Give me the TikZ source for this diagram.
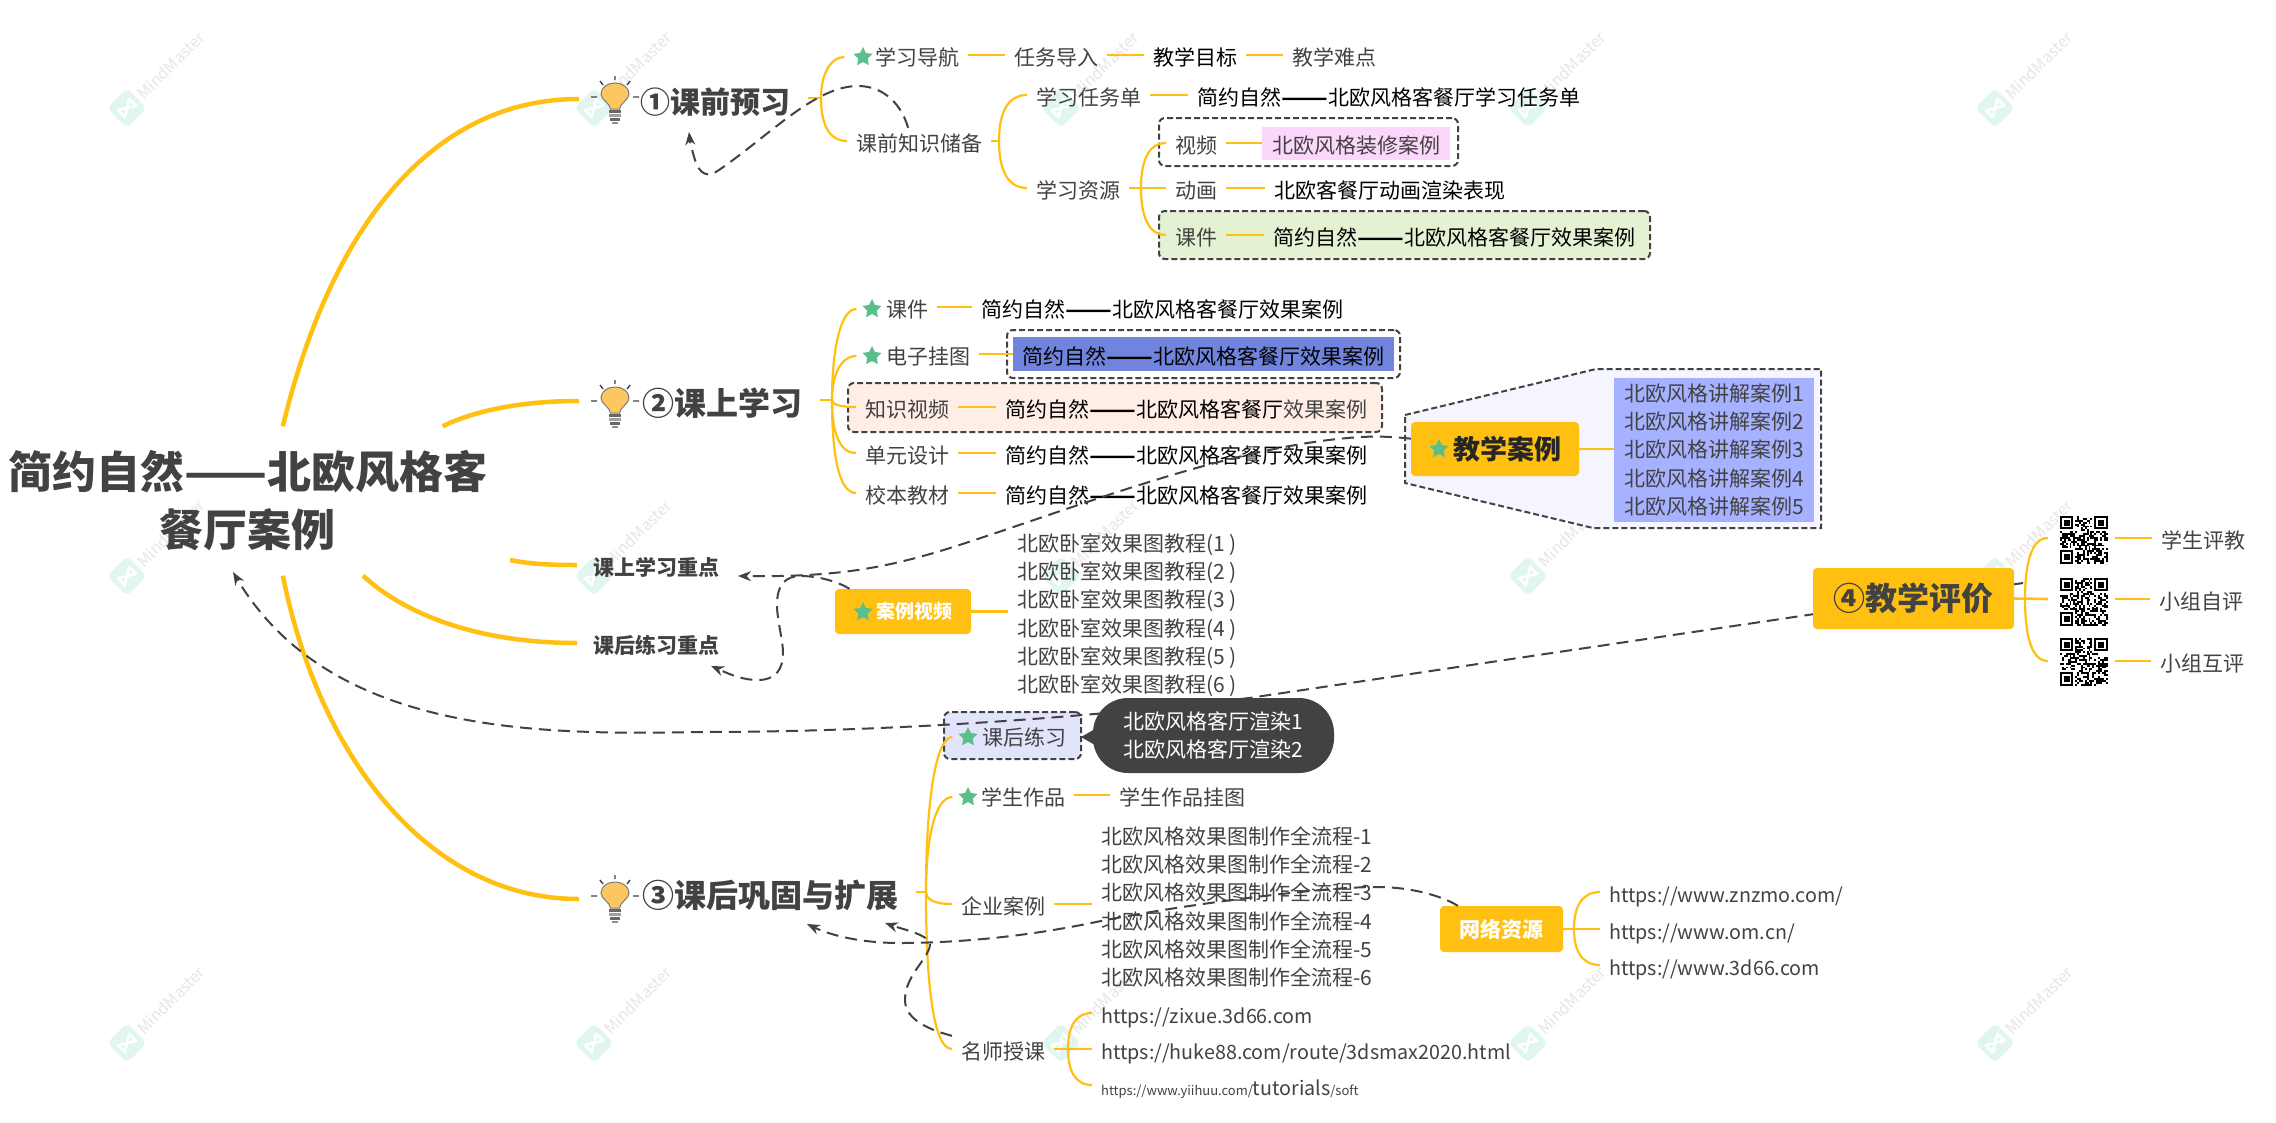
\documentclass[tikz,border=0pt]{standalone}
\usepackage{fontspec}
\setmainfont{Noto Sans CJK SC}
\usetikzlibrary{shapes.geometric,arrows.meta,calc}
\definecolor{org}{HTML}{FFC012}
\definecolor{gy}{HTML}{424242}
\definecolor{wmg}{HTML}{E6E6E6}
\definecolor{wml}{HTML}{E0F6EE}
\definecolor{strc}{HTML}{5BBF8A}
\definecolor{cbulb}{HTML}{FCC75F}
\definecolor{cgreen}{HTML}{E4F2D3}
\definecolor{cpeach}{HTML}{FFEEE5}
\definecolor{clav}{HTML}{E1E4FA}
\definecolor{cpale}{HTML}{F4F5FE}
\definecolor{cpink}{HTML}{FBD7FB}
\definecolor{cblue}{HTML}{7084DE}
\definecolor{clist}{HTML}{A6B1FF}
\newcommand\dd{\scalebox{1.3}[1]{\bfseries ——}}
\tikzset{
  x=1pt,y=-1pt,
  lbl/.style={anchor=west,inner xsep=9pt,inner ysep=0pt,font=\fontsize{21}{25}\selectfont,text height=23pt,text depth=3pt,text=gy},
  blk/.style={lbl,text=black},
  urlt/.style={lbl,font=\fontsize{19.7}{25}\selectfont},
  multi/.style={anchor=west,inner xsep=9pt,inner ysep=0pt,font=\fontsize{21}{28.3}\selectfont,align=left,text=gy},
  hdr/.style={anchor=west,inner xsep=18pt,inner ysep=0pt,font=\fontsize{30}{34}\bfseries\selectfont,text height=34pt,text depth=4pt,text=gy},
  sub/.style={anchor=west,inner xsep=16pt,inner ysep=0pt,font=\fontsize{21}{25}\bfseries\selectfont,text height=23pt,text depth=3pt,text=gy},
  twig/.style={draw=org,line width=2.2pt},
  lnk/.style={draw=org,line width=2.6pt},
  trunk/.style={draw=org,line width=4.5pt},
  grp/.style={draw=gy,line width=2pt,dash pattern=on 6pt off 3pt,rounded corners=6pt,inner sep=0pt},
  solid box/.style={inner sep=0pt,text height=23pt,text depth=3pt,font=\fontsize{21}{25}\selectfont},
  orgbox/.style={fill=org,rounded corners=4pt,inner sep=0pt},
  dlink/.style={draw=gy,line width=2pt,dash pattern=on 12pt off 7pt,-{Stealth[length=13pt,width=10pt]}},
  gstar/.style={star,star points=5,star point ratio=2,fill=strc,minimum size=20pt,inner sep=0pt},
  bulbspot/.style={minimum width=72pt,minimum height=40pt,inner sep=0pt},
  qrspot/.style={minimum width=67pt,minimum height=48pt,inner sep=0pt},
}
\newcommand\brnch[3][0]{\draw[twig,shorten >=#1pt] (#2) .. controls ($(#2)!.55!(#2 |- #3)$) and ($(#2 |- #3)!.25!(#3)$) .. (#3);}
\newcommand\wmark[2]{\begin{scope}[shift={(#1,#2)}]
  \fill[wml,rounded corners=5pt,rotate=45] (-14,-14) rectangle (14,14);
  \draw[white,line width=2.6pt,line join=round,rotate=45] (-8,-5) -- (8,5) -- (8,-5) -- (-8,5) -- cycle;
  \node[rotate=45,text=wmg,font=\fontsize{16}{18}\selectfont,inner sep=0pt] at (44,-43) {MindMaster};
\end{scope}}
\newcommand\bulbicon[2]{\begin{scope}[shift={(#1,#2)}]
  \draw[fill=cbulb,draw=gy!70,line width=1pt] (-4.5,9) .. controls (-5,3) and (-14,0) .. (-14,-6) .. controls (-14,-13) and (-7,-17) .. (0,-17) .. controls (7,-17) and (14,-13) .. (14,-6) .. controls (14,0) and (5,3) .. (4.5,9) -- cycle;
  \fill[gy!80] (-6,10) rectangle (6,13);
  \fill[gy!50] (-6,14) rectangle (6,17);
  \fill[gy!80] (-5,18) rectangle (5,21);
  \fill[gy!60] (-3,22) rectangle (3,24);
  \draw[gy,line width=1.4pt] (0,-24) -- (0,-20) (-15,-19) -- (-12,-15) (15,-19) -- (12,-15) (-24,-3) -- (-18,-3) (24,-3) -- (18,-3);
\end{scope}}
\newcommand\finderq[2]{\fill[white] (#1-0.5,#2-0.5) rectangle ++(8,8);\fill[black] (#1,#2) rectangle ++(7,7);\fill[white] (#1+1,#2+1) rectangle ++(5,5);\fill[black] (#1+2,#2+2) rectangle ++(3,3);}
\newcommand\qrcode[3]{\begin{scope}[shift={(#1,#2)},x=1.9pt,y=-1.9pt]
  \pgfmathsetseed{#3}
  \foreach \i in {0,...,24}{\foreach \j in {0,...,24}{\pgfmathrnd\ifdim\pgfmathresult pt<0.5pt \fill[black] (\i,\j) rectangle ++(1.02,1.02);\fi}}
  \fill[white] (0,0) rectangle (8,8);\fill[white] (17,0) rectangle (25,8);\fill[white] (0,17) rectangle (8,25);
  \finderq{0}{0}\finderq{18}{0}\finderq{0}{18}
\end{scope}}
\begin{document}
\begin{tikzpicture}
\fill[white] (0,0) rectangle (2276,1122);
\useasboundingbox (0,0) rectangle (2276,1122);
% watermarks
\foreach \wx in {127,594,1061,1528,1995}{\foreach \wy in {108,576,1043}{\wmark{\wx}{\wy}}}
% root
\node[font=\fontsize{44}{58}\bfseries\selectfont,text=gy,align=center,minimum width=482pt,minimum height=149pt,inner sep=0pt] (root) at (248,501) {简约自然\scalebox{1.1}[1]{——}北欧风格客\\餐厅案例};
% level one
\node[bulbspot] (bu1) at (615,99) {};
\node[bulbspot] (bu2) at (615,401) {};
\node[bulbspot] (bu3) at (615,899) {};
\bulbicon{615}{100}\bulbicon{615}{404}\bulbicon{615}{899}
\node[hdr] (t1) at (622,98) {①课前预习};
\node[hdr,font=\fontsize{32}{36}\bfseries\selectfont] (t2) at (624,400) {②课上学习};
\node[hdr,font=\fontsize{32}{36}\bfseries\selectfont] (t3) at (624,892) {③课后巩固与扩展};
\node[sub] (kz) at (577,565) {课上学习重点};
\node[sub] (hz) at (577,643) {课后练习重点};
\coordinate (r3) at (510,560);
\draw[trunk] (root.65) .. controls (330,230) and (430,99) .. (bu1.west);
\draw[trunk] (root.21) .. controls (480,408) and (530,401) .. (bu2.west);
\draw[trunk] (r3) .. controls (530,564) and (550,565) .. (kz.west);
\draw[trunk] (root.-33) .. controls (400,610) and (470,643) .. (hz.west);
\draw[trunk] (root.-65) .. controls (320,760) and (430,899) .. (bu3.west);
\coordinate (j1) at (821,98);\coordinate (j1b) at (999,141);\coordinate (j1c) at (1141,188);
\coordinate (j2) at (832,400);\coordinate (j3) at (926,892);\coordinate (j5) at (1068,1049);
\coordinate (j6) at (1574,929);\coordinate (j4) at (2025,599);
% group frames
\node[grp,minimum width=299pt,minimum height=48pt] (g1) at (1308.5,142) {};
\node[grp,fill=cgreen,minimum width=491pt,minimum height=48pt] (g2) at (1404.5,235) {};
\node[grp,minimum width=393pt,minimum height=48pt] (g3) at (1203.5,354) {};
\node[grp,fill=cpeach,minimum width=534pt,minimum height=49pt] (g4) at (1115,407.5) {};
\node[grp,fill=clav,minimum width=137pt,minimum height=47pt] (g5) at (1012.5,735.5) {};
\draw[draw=gy,fill=cpale,line width=2pt,dash pattern=on 6pt off 3pt] (1405,415) -- (1596,369) -- (1821,369) -- (1821,528) -- (1593,528) -- (1405,483) -- cycle;
% preview branch
\node[gstar] (s1) at (863,57) {};
\node[lbl] (a1) at (866,55) {学习导航};
\node[lbl] (a2) at (1005,55) {任务导入};
\node[blk] (a3) at (1144,55) {教学目标};
\node[lbl] (a4) at (1283,55) {教学难点};
\node[lbl] (k2) at (847,141) {课前知识储备};
\node[lbl] (b1) at (1027,95) {学习任务单};
\node[blk] (b2) at (1188,95) {简约自然\dd 北欧风格客餐厅学习任务单};
\node[lbl] (c1) at (1027,188) {学习资源};
\node[lbl] (d1) at (1166,143) {视频};
\node[solid box,fill=cpink,text=gy,minimum width=188pt,minimum height=33pt] (d2) at (1356,143) {北欧风格装修案例};
\node[lbl] (e1) at (1166,188) {动画};
\node[blk] (e2) at (1265,188) {北欧客餐厅动画渲染表现};
\node[lbl] (f1) at (1166,235) {课件};
\node[blk] (f2) at (1264,235) {简约自然\dd 北欧风格客餐厅效果案例};
\draw[twig] (t1.east) -- (j1);
\brnch[12]{j1}{s1.west}
\brnch{j1}{k2.west}
\draw[lnk] (a1) -- (a2);\draw[lnk] (a2) -- (a3);\draw[lnk] (a3) -- (a4);
\draw[twig] (k2.east) -- (j1b);
\brnch{j1b}{b1.west}\brnch{j1b}{c1.west}
\draw[lnk] (b1) -- (b2);
\draw[twig] (c1.east) -- (j1c);
\brnch{j1c}{d1.west}\draw[twig] (j1c) -- (e1.west);\brnch{j1c}{f1.west}
\draw[lnk] (d1) -- (d2);\draw[lnk] (e1) -- (e2);\draw[lnk] (f1) -- (f2);
% lesson branch
\node[gstar] (s2) at (872,309) {};
\node[lbl] (l1) at (877,307) {课件};
\node[blk] (l1t) at (972,307) {简约自然\dd 北欧风格客餐厅效果案例};
\node[gstar] (s3) at (872,356) {};
\node[lbl] (l2) at (877,354) {电子挂图};
\node[solid box,fill=cblue,text=black,minimum width=381pt,minimum height=34pt] (l2t) at (1203.5,354) {简约自然\dd 北欧风格客餐厅效果案例};
\node[lbl] (l3) at (856,407) {知识视频};
\node[blk] (l3t) at (996,407) {简约自然\dd 北欧风格客餐厅{\color{gy}效果案例}};
\node[lbl] (l4) at (856,453) {单元设计};
\node[blk] (l4t) at (996,453) {简约自然\dd 北欧风格客餐厅效果案例};
\node[lbl] (l5) at (856,493) {校本教材};
\node[blk] (l5t) at (996,493) {简约自然\dd 北欧风格客餐厅效果案例};
\draw[twig] (t2.east) -- (j2);
\brnch[9]{j2}{s2.west}\brnch[9]{j2}{s3.west}\brnch{j2}{l3.west}\brnch{j2}{l4.west}\brnch{j2}{l5.west}
\draw[lnk] (l1) -- (l1t);\draw[lnk] (l2) -- (l2t);\draw[lnk] (l3) -- (l3t);\draw[lnk] (l4) -- (l4t);\draw[lnk] (l5) -- (l5t);
% teaching cases
\node[orgbox,minimum width=168pt,minimum height=54pt,font=\fontsize{27}{30}\bfseries\selectfont,text=black!85,text height=24pt,text depth=3.5pt] (cs) at (1495,449) {\hspace{24pt}教学案例};
\node[gstar] (s4) at (1439,449) {};
\node[fill=clist,inner sep=0pt,minimum width=200pt,minimum height=144pt,font=\fontsize{21}{28.4}\selectfont,align=left,text=gy] (csl) at (1714,450) {北欧风格讲解案例1\\北欧风格讲解案例2\\北欧风格讲解案例3\\北欧风格讲解案例4\\北欧风格讲解案例5};
\draw[lnk] (cs.east) -- (csl.west |- cs.east);
% case videos
\node[orgbox,minimum width=136pt,minimum height=45pt,font=\fontsize{19}{22}\bfseries\selectfont,text=white] (cv) at (903,611.5) {\hspace{22pt}案例视频};
\node[gstar] (s5) at (863,612) {};
\node[multi] (cvl) at (1008,615) {北欧卧室效果图教程(1 )\\北欧卧室效果图教程(2 )\\北欧卧室效果图教程(3 )\\北欧卧室效果图教程(4 )\\北欧卧室效果图教程(5 )\\北欧卧室效果图教程(6 )};
\draw[lnk] (cv.east) -- (cvl.west |- cv.east);
% after-class branch
\node[gstar] (s6) at (968,737) {};
\node[lbl] (h1) at (973,735) {课后练习};
\node[gstar] (s7) at (968,797) {};
\node[lbl] (h2) at (972,795) {学生作品};
\node[lbl] (h2t) at (1110,795) {学生作品挂图};
\node[lbl] (h3) at (952,904) {企业案例};
\node[multi] (h3l) at (1092,907) {北欧风格效果图制作全流程-1\\北欧风格效果图制作全流程-2\\北欧风格效果图制作全流程-3\\北欧风格效果图制作全流程-4\\北欧风格效果图制作全流程-5\\北欧风格效果图制作全流程-6};
\node[lbl] (h4) at (952,1049) {名师授课};
\node[urlt] (u1) at (1092,1013) {https://zixue.3d66.com};
\node[urlt] (u2) at (1092,1049) {https://huke88.com/route/3dsmax2020.html};
\node[urlt] (u3) at (1092,1085) {{\fontsize{13}{14}\selectfont https://www.yiihuu.com/}tutorials{\fontsize{13}{14}\selectfont /soft}};
\draw[twig] (t3.east) -- (j3);
\brnch[9]{j3}{s6.west}\brnch[9]{j3}{s7.west}\brnch{j3}{h3.west}\brnch{j3}{h4.west}
\draw[lnk] (h2) -- (h2t);
\draw[lnk] (h3.east) -- (h3l.west |- h3.east);
\draw[twig] (h4.east) -- (j5);
\brnch{j5}{u1.west}\draw[twig] (j5) -- (u2.west);\brnch{j5}{u3.west}
% web resources
\node[orgbox,minimum width=123pt,minimum height=46pt,font=\fontsize{21}{25}\bfseries\selectfont,text=white] (wl) at (1501.5,929) {网络资源};
\node[urlt] (w1) at (1600,892) {https://www.znzmo.com/};
\node[urlt] (w2) at (1600,929) {https://www.om.cn/};
\node[urlt] (w3) at (1600,965) {https://www.3d66.com};
\draw[twig] (wl.east) -- (j6);
\brnch{j6}{w1.west}\draw[twig] (j6) -- (w2.west);\brnch{j6}{w3.west}
% dashed relation links
\coordinate (p1) at (689,132);\coordinate (p2) at (738,576);\coordinate (p3) at (711,666);
\coordinate (p4) at (233,572);\coordinate (p5) at (807,924);\coordinate (p6) at (885,923);\coordinate (q0) at (2023,583);
\draw[dlink] (k2.130) .. controls (900,100) and (880,86) .. (858,86) .. controls (815,86) and (770,135) .. (719,170) .. controls (708,178) and (700,175) .. (695,160) .. controls (692,150) and (690,142) .. (p1);
\draw[dlink] (cs.173) .. controls (1395,437) and (1380,436) .. (1361,437) .. controls (1230,445) and (1070,510) .. (950,548) .. controls (880,570) and (830,577) .. (p2);
\draw[dlink] (cv.157) .. controls (835,580) and (815,576) .. (801,576) .. controls (785,576) and (777,585) .. (777,605) .. controls (777,620) and (783,640) .. (783,653) .. controls (783,670) and (775,680) .. (758,680) .. controls (740,680) and (725,672) .. (p3);
\draw[dlink] (q0) -- (1249,698) .. controls (1100,716) and (900,732) .. (700,732) .. controls (540,735) and (330,735) .. (p4);
\draw[dlink] (wl.152) .. controls (1440,895) and (1410,887) .. (1376,887) .. controls (1320,887) and (1180,905) .. (1096,922) .. controls (1020,938) and (950,943) .. (900,943) .. controls (860,943) and (830,935) .. (p5);
\draw[dlink] (h4.north west) .. controls (930,1030) and (905,1020) .. (905,1000) .. controls (905,975) and (928,960) .. (930,945) .. controls (930,935) and (905,930) .. (p6);
% callout
\fill[gy] (1095,729) -- (1081,737) -- (1095,745) -- cycle;
\node[fill=gy,rounded corners=35pt,inner sep=0pt,minimum width=241pt,minimum height=75pt,font=\fontsize{21}{28}\selectfont,align=center,text=white] (dk) at (1213.5,735.5) {北欧风格客厅渲染1\\北欧风格客厅渲染2};
% evaluation
\node[orgbox,minimum width=201pt,minimum height=61pt,font=\fontsize{32}{36}\bfseries\selectfont,text=gy] (ev) at (1913.5,598.5) {④教学评价};
\node[qrspot] (q1) at (2081.5,538) {};
\node[qrspot] (q2) at (2081.5,599) {};
\node[qrspot] (q3) at (2081.5,661) {};
\qrcode{2060}{516}{11}\qrcode{2060}{578}{23}\qrcode{2060}{638}{37}
\node[lbl] (v1) at (2152,538) {学生评教};
\node[lbl] (v2) at (2150,599) {小组自评};
\node[lbl] (v3) at (2151,661) {小组互评};
\draw[lnk] (ev.east) -- (q2.west);
\brnch{j4}{q1.west}\brnch{j4}{q3.west}
\draw[lnk] (q1) -- (v1);\draw[lnk] (q2) -- (v2);\draw[lnk] (q3) -- (v3);
\end{tikzpicture}
\end{document}
